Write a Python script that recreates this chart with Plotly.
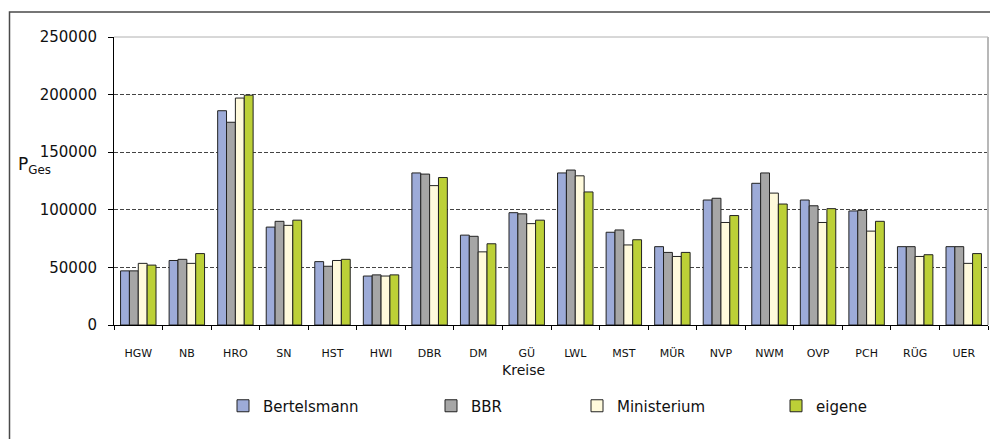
import plotly.graph_objects as go

kreise = ["HGW", "NB", "HRO", "SN", "HST", "HWI", "DBR", "DM", "GÜ", "LWL",
          "MST", "MÜR", "NVP", "NWM", "OVP", "PCH", "RÜG", "UER"]
bertelsmann = [47000, 56000, 186000, 85000, 55000, 42500, 132000, 78000, 97500, 132000,
               80500, 68000, 108500, 123000, 108500, 99000, 68000, 68000]
bbr = [47000, 57000, 176000, 90000, 51000, 43500, 131000, 77000, 96500, 134500,
       82500, 63000, 110000, 132000, 103500, 99500, 68000, 68000]
ministerium = [53500, 53500, 197000, 86500, 56000, 42500, 121000, 63500, 88000, 129500,
               69500, 59500, 89000, 114500, 89000, 81500, 59500, 53500]
eigene = [52000, 62000, 199500, 91000, 57000, 43500, 128000, 70500, 91000, 115500,
          74000, 63000, 95000, 105000, 101000, 90000, 61000, 62000]
y_ticks = [0, 50000, 100000, 150000, 200000, 250000]

series = [
    ("Bertelsmann", bertelsmann, "#9DABD8", "legend"),
    ("BBR", bbr, "#A6A6A6", "legend2"),
    ("Ministerium", ministerium, "#FFFADC", "legend3"),
    ("eigene", eigene, "#BCD037", "legend4"),
]

FONT = "DejaVu Sans"
OFF = 8  # page body margin of the browser
SCR_W, SCR_H = 998, 439
W, H = SCR_W - OFF, SCR_H - OFF
# target plot area in screen pixels
PX0, PX1, PY0, PY1 = 114, 988, 37, 325
L, T = PX0 - OFF, PY0 - OFF
R = W - (PX1 - OFF)
B = H - (PY1 - OFF)
PW, PH = PX1 - PX0, PY1 - PY0


def px_x(px):
    return (px - PX0) / PW


def px_y(py):
    return (PY1 - py) / PH


fig = go.Figure()
for name, vals, col, lg in series:
    fig.add_trace(go.Bar(
        x=kreise, y=vals, name=name, legend=lg,
        marker=dict(color=col, line=dict(color="#222222", width=1)),
    ))

leg_x = [243, 451, 597, 796]
legend_common = dict(
    orientation="h", yanchor="middle", xanchor="left",
    y=px_y(406), font=dict(family=FONT, size=15, color="#111111"),
    bgcolor="rgba(0,0,0,0)", itemwidth=30,
)
layout_legends = {}
for i, key in enumerate(["legend", "legend2", "legend3", "legend4"]):
    layout_legends[key] = dict(legend_common, x=px_x(leg_x[i] - 20))

fig.update_layout(
    width=W, height=H,
    margin=dict(l=L, r=R, t=T, b=B, pad=0),
    paper_bgcolor="white", plot_bgcolor="white",
    barmode="group", bargap=0.27, bargroupgap=0,
    showlegend=True,
    **layout_legends,
    xaxis=dict(
        type="category", tickson="boundaries", ticks="outside", ticklen=4,
        tickcolor="#000000", showline=True, linecolor="#000000", linewidth=1,
        showgrid=False, tickfont=dict(family=FONT, size=11, color="#111111"),
        ticklabelstandoff=18,
    ),
    yaxis=dict(
        range=[0, 250000], tickvals=y_ticks,
        ticktext=[str(v) for v in y_ticks],
        ticks="outside", ticklen=5, tickcolor="#000000",
        showline=True, linecolor="#000000", linewidth=1,
        showgrid=True, gridcolor="#444444", griddash="4px,2px", gridwidth=1,
        zeroline=False, tickfont=dict(family=FONT, size=15, color="#111111"),
        ticklabelstandoff=8,
    ),
    shapes=[
        dict(type="line", xref="paper", yref="paper", x0=0, x1=1, y0=1, y1=1,
             line=dict(color="#B0B0B0", width=1)),
        dict(type="line", xref="paper", yref="paper", x0=1, x1=1, y0=0, y1=1,
             line=dict(color="#B8B8B8", width=2)),
        dict(type="rect", xref="paper", yref="paper",
             x0=px_x(9.5), x1=px_x(1010), y0=px_y(12), y1=px_y(460),
             line=dict(color="#4A4A4A", width=1.5), layer="below"),
    ],
    annotations=[
        dict(text="P<sub>Ges</sub>", xref="paper", yref="paper",
             x=px_x(16), y=px_y(165), xanchor="left", yanchor="middle",
             showarrow=False, font=dict(family=FONT, size=17, color="#111111")),
        dict(text="Kreise", xref="paper", yref="paper",
             x=px_x(523), y=px_y(370), xanchor="center", yanchor="middle",
             showarrow=False, font=dict(family=FONT, size=14, color="#111111")),
    ],
)

fig.write_html("out.html")
